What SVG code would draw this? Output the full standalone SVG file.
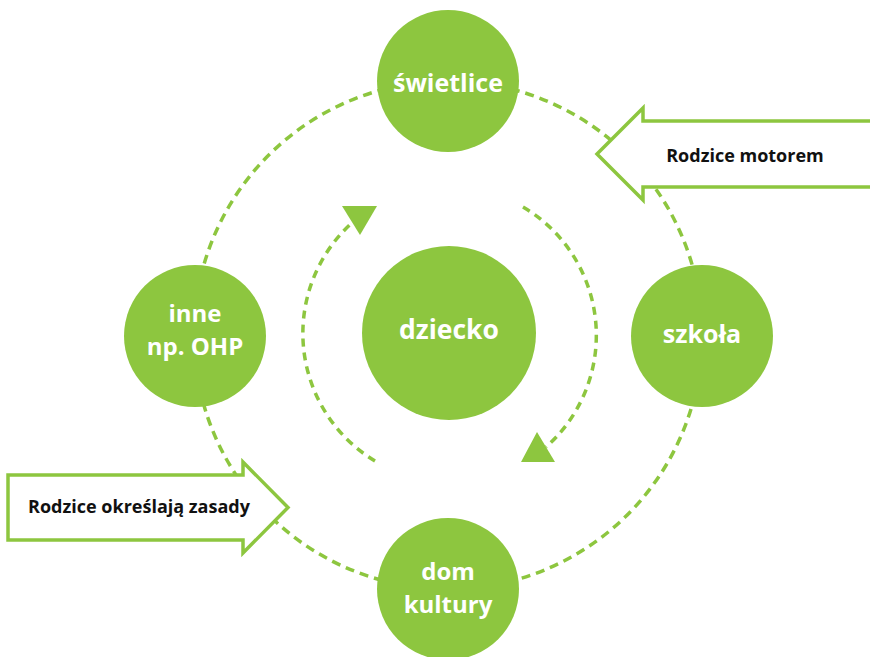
<svg xmlns="http://www.w3.org/2000/svg" width="870" height="657" viewBox="0 0 870 657">
<style>
.dash{fill:none;stroke:#8DC63F;stroke-width:3.5;stroke-dasharray:9 6}
.idash{fill:none;stroke:#8DC63F;stroke-width:3.5;stroke-dasharray:8 6}
.head{fill:#8DC63F}
.node{fill:#8DC63F}
.nt{fill:#ffffff;font-family:"Open Sans","Noto Sans",sans-serif;font-weight:700;font-size:25px;text-anchor:middle}
.nt2{fill:#ffffff;font-family:"Open Sans","Noto Sans",sans-serif;font-weight:700;font-size:24px;text-anchor:middle}
.blk{fill:#ffffff;stroke:#8DC63F;stroke-width:3.5;stroke-linejoin:miter}
.bt{fill:#111111;font-family:"Open Sans","Noto Sans",sans-serif;font-weight:700;font-size:18px;text-anchor:middle}
</style>
<rect width="870" height="657" fill="#ffffff"/>
<g id="connectors">
<circle class="dash" cx="448" cy="335" r="254"/>
<path class="idash" d="M375 461 A149 149 0 0 1 354 221"/>
<polygon class="head" points="342,206 377,206 360,235"/>
<path class="idash" d="M523 207 A149 149 0 0 1 546 447"/>
<polygon class="head" points="521,462 555,462 537,432"/>
</g>
<g id="node-swietlice">
<circle class="node" cx="448" cy="81" r="71"/>
<text class="nt" x="448" y="92">świetlice</text>
</g>
<g id="node-dziecko">
<circle class="node" cx="449" cy="333" r="87"/>
<text class="nt" x="449" y="339" style="font-size:26.5px">dziecko</text>
</g>
<g id="node-szkola">
<circle class="node" cx="702" cy="336" r="71"/>
<text class="nt" x="702" y="343">szkoła</text>
</g>
<g id="node-inne">
<circle class="node" cx="195" cy="336" r="71"/>
<text class="nt2" x="195" y="322">inne</text>
<text class="nt2" x="195" y="355">np. OHP</text>
</g>
<g id="node-dom-kultury">
<circle class="node" cx="448" cy="589" r="71"/>
<text class="nt2" x="448" y="580">dom</text>
<text class="nt2" x="448" y="613">kultury</text>
</g>
<g id="node-rodzice-motorem">
<polygon class="blk" points="876,121 643,121 643,108 597,154 643,200 643,187 876,187"/>
<text class="bt" x="745" y="162">Rodzice motorem</text>
</g>
<g id="node-rodzice-zasady">
<polygon class="blk" points="8,475 243,475 243,462 288,507.5 243,553 243,540 8,540"/>
<text class="bt" x="139" y="513">Rodzice określają zasady</text>
</g>
</svg>
